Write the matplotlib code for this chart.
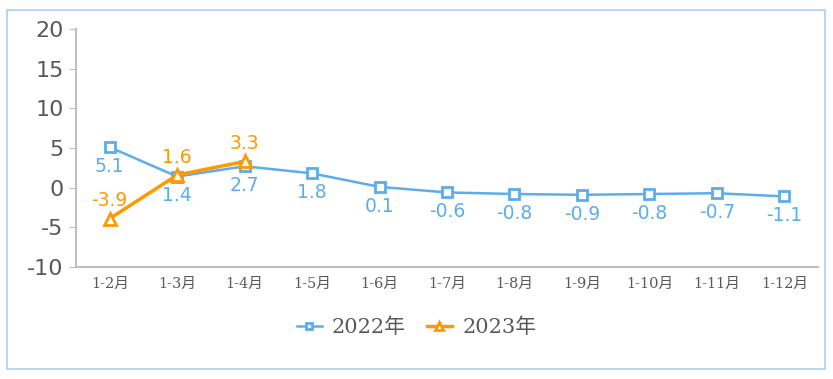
import matplotlib.pyplot as plt
from matplotlib.patches import Rectangle

months = ['1-2月', '1-3月', '1-4月', '1-5月', '1-6月', '1-7月', '1-8月',
          '1-9月', '1-10月', '1-11月', '1-12月']
vals_2022 = [5.1, 1.4, 2.7, 1.8, 0.1, -0.6, -0.8, -0.9, -0.8, -0.7, -1.1]
vals_2023 = [-3.9, 1.6, 3.3]
y_ticks = [-10, -5, 0, 5, 10, 15, 20]

blue = '#5DADEC'
orange = '#FF9900'
grey = '#595959'

fig = plt.figure(figsize=(8.33, 3.79), dpi=100)
fig.patches.append(Rectangle((7 / 833, 1 - 369 / 379), 818 / 833, 359 / 379,
                             transform=fig.transFigure, fill=False,
                             edgecolor='#A9D0F5', linewidth=1.2))

ax = fig.add_axes([76 / 833, 1 - 267 / 379, 742 / 833, 238 / 379])
x = list(range(len(months)))

ax.plot(x, vals_2022, color=blue, lw=1.8, marker='s', ms=7,
        mfc='white', mec=blue, mew=2, label='2022年', zorder=3)
ax.plot(x[:len(vals_2023)], vals_2023, color=orange, lw=2.5, marker='^', ms=9,
        mfc='white', mec=orange, mew=2, label='2023年', zorder=4)

for i, v in enumerate(vals_2022):
    ax.annotate(f'{v}', (i, v), xytext=(0, -7), textcoords='offset points',
                ha='center', va='top', color=blue, fontsize=13.5)
for i, v in enumerate(vals_2023):
    ax.annotate(f'{v}', (i, v), xytext=(0, 6), textcoords='offset points',
                ha='center', va='bottom', color=orange, fontsize=13.5)

ax.set_xlim(-0.5, len(months) - 0.5)
ax.set_ylim(-10, 20)
ax.set_yticks(y_ticks)
ax.set_yticklabels([str(t) for t in y_ticks], fontsize=16, color=grey)
ax.set_xticks(x)
ax.set_xticklabels(months, fontsize=10.5, color=grey,
                   family=['DejaVu Serif', 'Noto Sans CJK SC'])
ax.tick_params(axis='x', length=0, pad=7)
ax.tick_params(axis='y', length=5, color='#BFBFBF', pad=4)
for side in ['top', 'right']:
    ax.spines[side].set_visible(False)
for side in ['left', 'bottom']:
    ax.spines[side].set_color('#BFBFBF')
    ax.spines[side].set_linewidth(1.5)

leg = fig.legend(loc='center', bbox_to_anchor=(0.5, 1 - 327 / 379), ncol=2,
                 frameon=False, handlelength=1.2, columnspacing=1.0,
                 handletextpad=0.5, markerscale=0.65,
                 prop={'family': ['DejaVu Serif', 'Noto Sans CJK SC'], 'size': 15})
for t in leg.get_texts():
    t.set_color(grey)

fig.savefig('out.png', dpi=100)
